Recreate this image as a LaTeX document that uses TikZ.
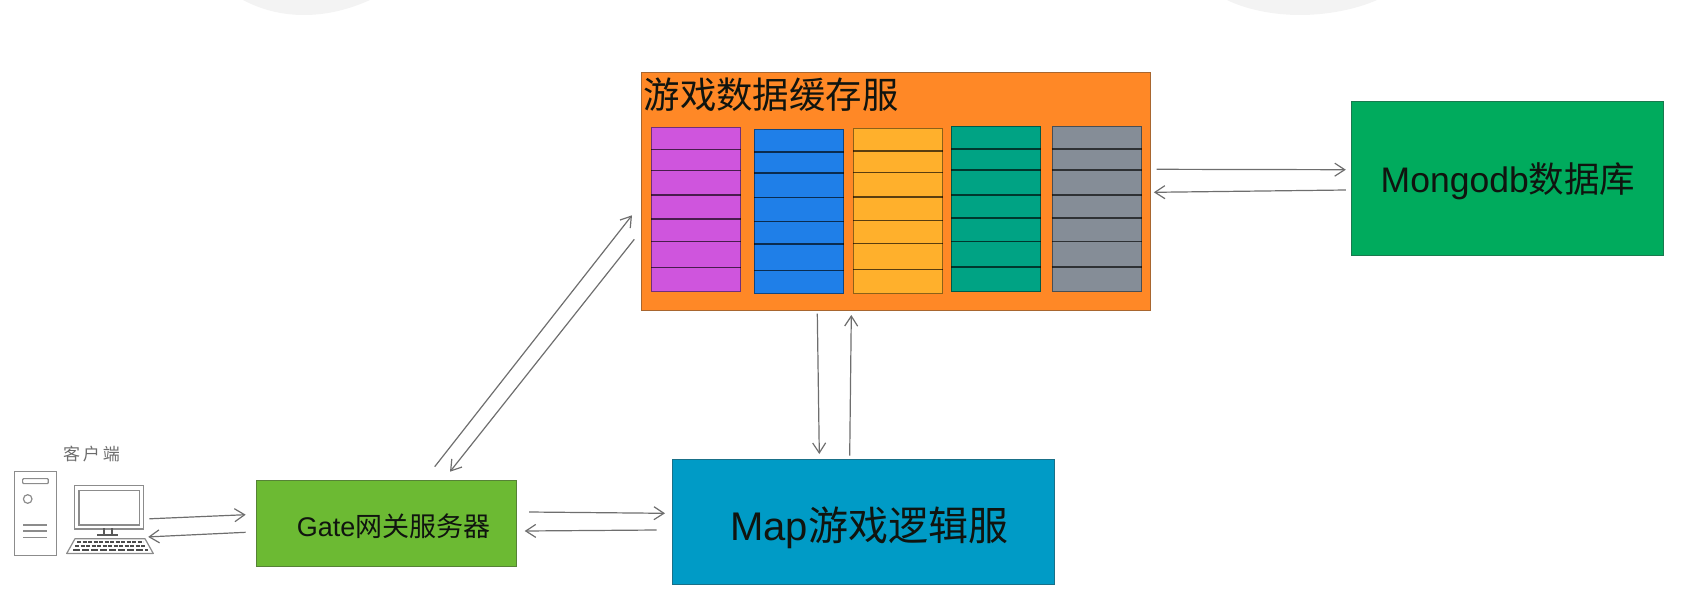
\documentclass[tikz,border=0pt]{standalone}
\usepackage{fontspec}
\setmainfont{Liberation Sans}
\newfontfamily\cjk{Noto Sans CJK SC}
\usetikzlibrary{arrows.meta}
\definecolor{cOrange}{HTML}{FF8826}
\definecolor{cPurple}{HTML}{CF55DD}
\definecolor{cBlue}{HTML}{1F7FE8}
\definecolor{cYellow}{HTML}{FFB02C}
\definecolor{cTeal}{HTML}{00A384}
\definecolor{cGray}{HTML}{858D97}
\definecolor{cMongo}{HTML}{00AB5D}
\definecolor{cGate}{HTML}{6CBA33}
\definecolor{cMap}{HTML}{009BC6}
\definecolor{cBlob}{HTML}{F3F3F3}
\definecolor{cLine}{HTML}{6E6E6E}
\definecolor{cText}{HTML}{10140F}
\tikzset{
  box/.style={draw=#1!70!black!80!gray,line width=1pt,anchor=north west,inner sep=0pt,text=cText},
  colbox/.style={draw=#1!55!black,fill=#1,line width=1.3pt,anchor=north west,inner sep=0pt,minimum width=89pt},
  rowline/.style={draw=black,opacity=0.65,line width=1.4pt},
  conn/.style={draw=cLine,line width=1.2pt,-{Straight Barb[length=10pt,width=13pt,line width=1.2pt]}},
  sketch/.style={draw=gray!90,line width=1.2pt,line join=round},
  sketchthick/.style={draw=gray!70!black,line width=1.5pt},
  label/.style={anchor=center,inner sep=0pt,text=cText},
}
\begin{document}
\begin{tikzpicture}[x=1pt,y=-1pt]
\useasboundingbox (0,0) rectangle (1687,600);
% faint blobs at the top
\fill[cBlob] (243,0) .. controls (260,9) and (280,15) .. (304,15) .. controls (328,15) and (350,9) .. (370,0) -- cycle;
\fill[cBlob] (1227,0) .. controls (1245,9) and (1272,15) .. (1300,15) .. controls (1328,15) and (1357,9) .. (1377,0) -- cycle;
% main boxes
\node[box=cOrange,fill=cOrange,minimum width=508.8pt,minimum height=238.3pt] (cache) at (640.7,71.7) {};
\node[label,anchor=west,font=\cjk\fontsize{36.4}{37}\selectfont] (cachetitle) at (643.5,95) {游戏数据缓存服};
\node[box=cMongo,fill=cMongo,minimum width=312.3pt,minimum height=153.7pt] (mongo) at (1350.7,101) {};
\node[label] (mongotext) at (1508,181) {\fontsize{35.5}{36}\selectfont Mongodb{\cjk 数据库}};
\node[box=cGate,fill=cGate,minimum width=259.7pt,minimum height=85.4pt] (gate) at (256.3,480.3) {};
\node[label] (gatetext) at (393.7,526) {\fontsize{27}{28}\selectfont Gate{\cjk 网关服务器}};
\node[box=cMap,fill=cMap,minimum width=382.3pt,minimum height=125.3pt] (map) at (671.7,459) {};
\node[label] (maptext) at (869.3,528) {\fontsize{40}{41}\selectfont Map{\cjk 游戏逻辑服}};
% columns inside the cache
\node[colbox=cPurple,minimum height=164.3pt] (c1) at (651,126.7) {};
\node[colbox=cBlue,minimum height=164pt] (c2) at (754,129) {};
\node[colbox=cYellow,minimum height=164.5pt] (c3) at (853,128) {};
\node[colbox=cTeal,minimum height=165pt] (c4) at (951,126) {};
\node[colbox=cGray,minimum height=164.5pt] (c5) at (1051.6,126) {};
\foreach \n/\ys in {c1/{149.3,170.3,195,219,241.7,267.3},c2/{152,173,197.7,221.7,244,270.3},c3/{151,172.3,197,220.3,243.7,269.7},c4/{149,170,195,218,241.7,267},c5/{149,170,195,218,241.7,267}}{
  \foreach \y in \ys {
    \draw[rowline] (\n.west |- 0,\y) -- (\n.east |- 0,\y);
  }
}
% client
\node[anchor=center,inner sep=0pt,text=gray!85!black,font=\cjk\fontsize{17}{17}\selectfont,text width=60pt,align=center] (clientlabel) at (91.5,454.5) {客\,户\,端};
\node[draw=gray!90,line width=1.2pt,anchor=north west,inner sep=0pt,minimum width=42pt,minimum height=83.7pt] (tower) at (14,471) {};
\node[draw=gray!90,line width=1.2pt,rounded corners=1pt,anchor=north west,inner sep=0pt,minimum width=25.7pt,minimum height=5pt] (slot) at (22,478) {};
\node[circle,draw=gray!90,line width=1.2pt,inner sep=0pt,minimum size=8.6pt] (led) at (27.7,499) {};
\draw[sketch] (23,525) -- (47,525);
\draw[sketch] (23,531) -- (47,531);
\draw[sketch] (23,537.7) -- (47,537.7);
\node[draw=gray!90,line width=1.2pt,anchor=north west,inner sep=0pt,minimum width=68.7pt,minimum height=43.3pt] (monitor) at (74,485) {};
\node[draw=gray!90,line width=1.2pt,anchor=north west,inner sep=0pt,minimum width=60.7pt,minimum height=34.3pt] (screen) at (78.3,490) {};
\draw[sketchthick] (104,528.3) -- (104,534) (112,528.3) -- (112,534);
\draw[sketchthick] (97,535) -- (118,535);
\draw[sketch] (75,538.7) -- (145,538.7) -- (153.3,553.5) -- (66.7,553.5) -- cycle;
\draw[gray!60!black,line width=1.6pt,dash pattern=on 4pt off 1.5pt] (77,542) -- (143,542);
\draw[gray!60!black,line width=1.6pt,dash pattern=on 4pt off 1.5pt] (75,546) -- (146,546);
\draw[gray!60!black,line width=1.6pt,dash pattern=on 7pt off 2pt] (73,550) -- (148,550);
% connectors
\draw[conn] ([shift={(6.2,-141.7)}]cache.south east) -- ([shift={(-4.9,68.7)}]mongo.north west);
\draw[conn] ([shift={(-4.9,89)}]mongo.north west) -- ([shift={(3.3,-118.7)}]cache.south east);
\draw[conn] ([shift={(176.6,2.7)}]cache.south west) -- ([shift={(147.6,-5)}]map.north west);
\draw[conn] ([shift={(178,-3.3)}]map.north west) -- ([shift={(210.6,4)}]cache.south west);
\draw[conn] ([shift={(12,-54.7)}]gate.south east) -- ([shift={(-6.7,54.3)}]map.north west);
\draw[conn] ([shift={(-15,71)}]map.north west) -- ([shift={(7.7,-35.7)}]gate.south east);
\draw[conn] ([shift={(5.4,-10.7)}]monitor.south east) -- ([shift={(-10.6,34.4)}]gate.north west);
\draw[conn] ([shift={(-10.6,52)}]gate.north west) -- ([shift={(4.3,7.4)}]monitor.south east);
\draw[conn] ([shift={(178.4,-13.6)}]gate.north west) -- ([shift={(-8.7,143.6)}]cache.north west);
\draw[conn] ([shift={(-6.4,167.6)}]cache.north west) -- ([shift={(193.7,-8.6)}]gate.north west);
\end{tikzpicture}
\end{document}
